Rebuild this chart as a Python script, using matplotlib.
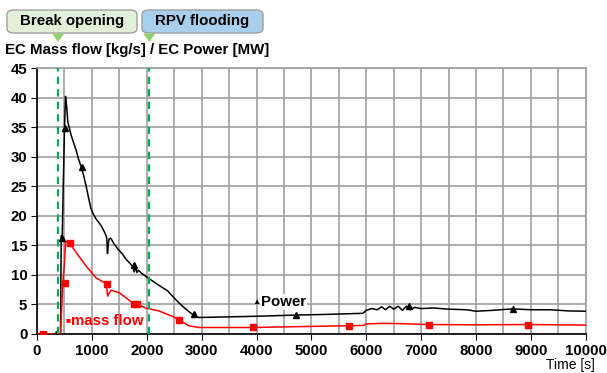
import matplotlib.pyplot as plt
from matplotlib.patches import FancyBboxPatch, Polygon

plt.rcParams['font.family'] = ['Liberation Sans', 'DejaVu Sans']

# Power curve [MW]
power_t = [0, 338, 428, 441, 459, 480, 501, 519, 540, 561, 622, 712, 760, 803, 850, 893, 940,
           983, 1030, 1074, 1164, 1242, 1270, 1284, 1300, 1314, 1344, 1400, 1480, 1560,
           1616, 1700, 1750, 1770, 1797, 1820, 1850, 1900, 2007, 2100, 2278, 2380, 2459,
           2550, 2640, 2740, 2821, 2942, 3000, 3500, 4000, 4720, 5200, 5600, 5940,
           6000, 6100, 6200, 6280, 6350, 6430, 6500, 6580, 6660, 6730, 6800, 6880, 7000,
           7220, 7500, 7830, 8000, 8300, 8670, 9000, 9340, 9700, 10000]
power_v = [0, 0, 0, 16.6, 16.3, 26, 34.9, 40.2, 38.5, 35.9, 33.6, 31.1, 29.5, 28.3, 26.8, 25.1, 23.0,
           21.2, 20.2, 19.5, 18.4, 17.0, 16.3, 13.6, 15.3, 16.1, 16.2, 15.3, 14.3, 13.5,
           12.7, 11.9, 11.3, 10.5, 11.4, 10.4, 10.8, 10.3, 9.6, 9.0, 7.9, 7.3, 6.5,
           5.6, 4.8, 4.0, 3.4, 2.8, 2.8, 2.9, 3.0, 3.2, 3.3, 3.4, 3.5,
           4.0, 4.3, 4.1, 4.6, 4.1, 4.7, 4.2, 4.7, 4.0, 4.7, 4.1, 4.5, 4.3,
           4.4, 4.2, 4.1, 3.85, 4.0, 4.25, 4.1, 4.1, 3.9, 3.85]
power_mark_t = [338, 459, 501, 815, 1768, 2856, 4720, 6780, 8670]
power_mark_v = [0, 16.3, 34.9, 28.3, 11.6, 3.3, 3.2, 4.7, 4.3]

# EC mass flow [kg/s]
flow_t = [0, 109, 428, 450, 471, 501, 519, 562, 592, 713, 894, 1075, 1244, 1268, 1286,
          1347, 1498, 1739, 1830, 1981, 2222, 2464, 2585, 2766, 2947, 3500, 3930, 4800,
          5690, 5950, 6000, 6300, 6600, 7140, 8000, 8940, 10000]
flow_v = [0, 0, 0, 4.5, 8.7, 12, 15.5, 15.8, 15.4, 13.8, 11.5, 9.5, 8.6, 8.4, 6.4,
          7.4, 7.0, 5.3, 5.0, 4.4, 3.9, 3.0, 2.4, 1.4, 1.1, 1.1, 1.1, 1.25,
          1.4, 1.45, 1.7, 1.8, 1.75, 1.6, 1.55, 1.6, 1.5]
flow_mark_t = [109, 501, 592, 1268, 1769, 1830, 2585, 3930, 5690, 7140, 8940]
flow_mark_v = [0, 8.6, 15.4, 8.5, 5.0, 5.0, 2.4, 1.1, 1.4, 1.55, 1.55]

events_t = [380, 2040]
events = ['Break opening', 'RPV flooding']

fig = plt.figure(figsize=(6.07, 3.73), dpi=100)
ax = fig.add_axes([0.061, 0.1046, 0.904, 0.713])

ax.plot(power_t, power_v, color='black', lw=1.1, zorder=3)
ax.plot(power_mark_t, power_mark_v, ls='none', marker='^', ms=4.5, color='black', zorder=4)
ax.plot(flow_t, flow_v, color='red', lw=1.1, zorder=3)
ax.plot(flow_mark_t, flow_mark_v, ls='none', marker='s', ms=4, color='red', zorder=4)

for t in events_t:
    ax.axvline(t, color='#00b050', ls=(0, (3.5, 2.5)), lw=1.5, zorder=5)

ax.set_xlim(0, 10000)
ax.set_ylim(0, 45)
ax.set_xticks(range(0, 10001, 1000))
ax.set_xticks(range(500, 10000, 1000), minor=True)
ax.set_yticks(range(0, 46, 5))
ax.grid(True, which='both', color='#a0a0a0', lw=1.2)
ax.set_axisbelow(True)
for s in ax.spines.values():
    s.set_color('#a0a0a0')
    s.set_linewidth(1.2)
ax.spines['left'].set_color('black')
ax.spines['bottom'].set_color('black')
ax.tick_params(which='both', length=4, color='black', labelsize=10.8, pad=3)
ax.tick_params(which='minor', length=0)
for lab in ax.get_xticklabels() + ax.get_yticklabels():
    lab.set_fontweight('bold')

ax.text(3990, 5.3, '\u25b2', fontsize=6, ha='center', va='center', color='black', zorder=6)
ax.text(4080, 5.4, 'Power', fontsize=10.8, fontweight='bold', va='center', ha='left',
        bbox=dict(facecolor='white', edgecolor='none', pad=1), zorder=6)
ax.text(560, 2.2, '\u25a0', fontsize=6, ha='center', va='center', color='red', zorder=6)
ax.text(620, 2.2, 'mass flow', fontsize=10.8, fontweight='bold', color='red', va='center',
        ha='left', zorder=6)

fig.text(0.008, 0.866, 'EC Mass flow [kg/s] / EC Power [MW]', fontsize=10.8,
         fontweight='bold', va='center', ha='left')
fig.text(0.98, 0.003, 'Time [s]', fontsize=10, va='bottom', ha='right')

# event boxes
W, H = 607.0, 373.0
boxes = [(7, 137, '#e2f0d9', '#8fd16c'), (142, 263, '#a9cfee', '#8fd16c')]
for (x0, x1, fc, tc), name, t in zip(boxes, events, events_t):
    px = 37.3 + t / 1000 * 54.9
    p = FancyBboxPatch((x0 / W, 1 - 33 / H), (x1 - x0) / W, 23 / H,
                       boxstyle='round,pad=0,rounding_size=0.012', transform=fig.transFigure,
                       facecolor=fc, edgecolor='#a0a0a0', lw=1)
    fig.add_artist(p)
    fig.text((x0 + x1) / 2 / W, 1 - 21.5 / H, name, fontsize=10.8, fontweight='bold',
             ha='center', va='center')
    tri = Polygon([((px - 6) / W, 1 - 33.5 / H), ((px + 6) / W, 1 - 33.5 / H),
                   (px / W, 1 - 42 / H)], closed=True, transform=fig.transFigure,
                  facecolor=tc, edgecolor='none')
    fig.add_artist(tri)

fig.savefig('out.png', dpi=100)
